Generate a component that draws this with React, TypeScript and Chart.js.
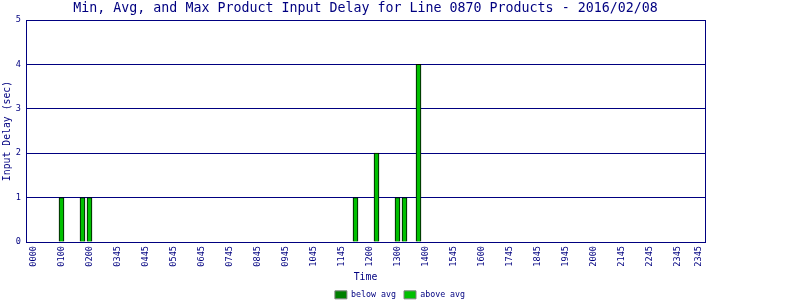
import React, { useEffect, useRef } from "react";
import { Chart, registerables } from "chart.js";

Chart.register(...registerables);

const NAVY = "#000080";
const FONT = "'DejaVu Sans Mono', monospace";

const chartTitle =
  "Min, Avg, and Max Product Input Delay for Line 0870 Products - 2016/02/08";
const yAxisTitle = "Input Delay (sec)";
const xAxisTitle = "Time";

// tick labels along the time axis (slot index -> label)
const xTickLabels = [
  "0000", "0100", "0200", "0345", "0445", "0545", "0645", "0745", "0845",
  "0945", "1045", "1145", "1200", "1300", "1400", "1545", "1600", "1745",
  "1845", "1945", "2000", "2145", "2245", "2345", "2345",
];
const xTickSlots = [
  0, 4, 8, 12, 16, 20, 24, 28, 32, 36, 40, 44, 48, 52, 56, 60, 64, 68, 72,
  76, 80, 84, 88, 92, 95,
];

// series
const legendNames = ["below avg", "above avg"];
const legendColors = ["#008000", "#00c000"];
const belowAvgSlots: number[] = [];
const belowAvgValues: number[] = [];
const aboveAvgSlots = [4, 7, 8, 46, 49, 52, 53, 55];
const aboveAvgValues = [1, 1, 1, 1, 2, 1, 1, 4];

const yMin = 0;
const yMax = 5;

export default function App() {
  const ref = useRef<HTMLCanvasElement>(null);

  useEffect(() => {
    document.body.style.margin = "0";
    const chart = new Chart(ref.current as HTMLCanvasElement, {
      type: "bar",
      data: {
        datasets: [
          {
            label: legendNames[0],
            data: belowAvgSlots.map((s, i) => ({ x: s, y: belowAvgValues[i] })),
            backgroundColor: legendColors[0],
            borderColor: "#000000",
            borderWidth: 1,
            barThickness: 5,
            grouped: false,
          } as any,
          {
            label: legendNames[1],
            data: aboveAvgSlots.map((s, i) => ({ x: s, y: aboveAvgValues[i] })),
            backgroundColor: legendColors[1],
            borderColor: "#000000",
            borderWidth: 1,
            barThickness: 5,
            grouped: false,
          } as any,
        ],
      },
      options: {
        responsive: false,
        animation: false,
        devicePixelRatio: 1,
        layout: { padding: { top: 0, left: 0, right: 0, bottom: -9 } },
        plugins: {
          title: {
            display: true,
            text: chartTitle,
            color: NAVY,
            fullSize: false,
            font: { family: FONT, size: 13.3, weight: "normal", lineHeight: 1 },
            padding: { top: 2, bottom: 4.7 },
          },
          legend: {
            position: "bottom",
            labels: {
              boxWidth: 12,
              boxHeight: 8,
              padding: 8,
              color: NAVY,
              font: { family: FONT, size: 8.3, lineHeight: 1 },
              generateLabels: () =>
                legendNames.map((t, i) => ({
                  text: t,
                  fillStyle: legendColors[i],
                  strokeStyle: "#808080",
                  lineWidth: 1,
                  hidden: false,
                  datasetIndex: i,
                  fontColor: NAVY,
                })),
            },
          },
          tooltip: { enabled: false },
        },
        scales: {
          x: {
            type: "linear",
            offset: false,
            min: -1.0714,
            max: 95.9286,
            grid: { display: false, drawTicks: false },
            border: { display: true, color: NAVY, width: 1 },
            afterBuildTicks: (scale: any) => {
              scale.ticks = xTickSlots.map((v) => ({ value: v }));
            },
            afterFit: (scale: any) => {
              scale.height = 40.7;
            },
            ticks: {
              autoSkip: false,
              maxRotation: 90,
              minRotation: 90,
              padding: 4,
              color: NAVY,
              font: { family: FONT, size: 8.6, lineHeight: 1 },
              callback: (_v: any, i: number) => xTickLabels[i],
            },
            title: {
              display: true,
              text: xAxisTitle,
              color: NAVY,
              font: { family: FONT, size: 9.8, lineHeight: 1 },
              padding: { top: 0, bottom: 0 },
            },
          },
          y: {
            type: "linear",
            position: "left",
            min: yMin,
            max: yMax,
            grid: { color: NAVY, lineWidth: 1, drawTicks: false },
            border: { display: true, color: NAVY, width: 1 },
            afterFit: (scale: any) => {
              scale.width = 26;
            },
            ticks: {
              stepSize: 1,
              padding: 5,
              color: NAVY,
              font: { family: FONT, size: 8.6, lineHeight: 1 },
            },
            title: {
              display: true,
              text: yAxisTitle,
              color: NAVY,
              font: { family: FONT, size: 9.8, lineHeight: 1 },
              padding: { top: 2.5, bottom: 0 },
            },
          },
          y2: {
            type: "linear",
            position: "right",
            min: yMin,
            max: yMax,
            grid: { display: false, drawTicks: false },
            ticks: { display: false },
            border: { display: true, color: NAVY, width: 1 },
            afterFit: (scale: any) => {
              scale.width = 95;
            },
          },
        },
      } as any,
    });
    return () => chart.destroy();
  }, []);

  return (
    <canvas
      ref={ref}
      width={800}
      height={300}
      style={{ display: "block", width: 800, height: 300 }}
    />
  );
}
